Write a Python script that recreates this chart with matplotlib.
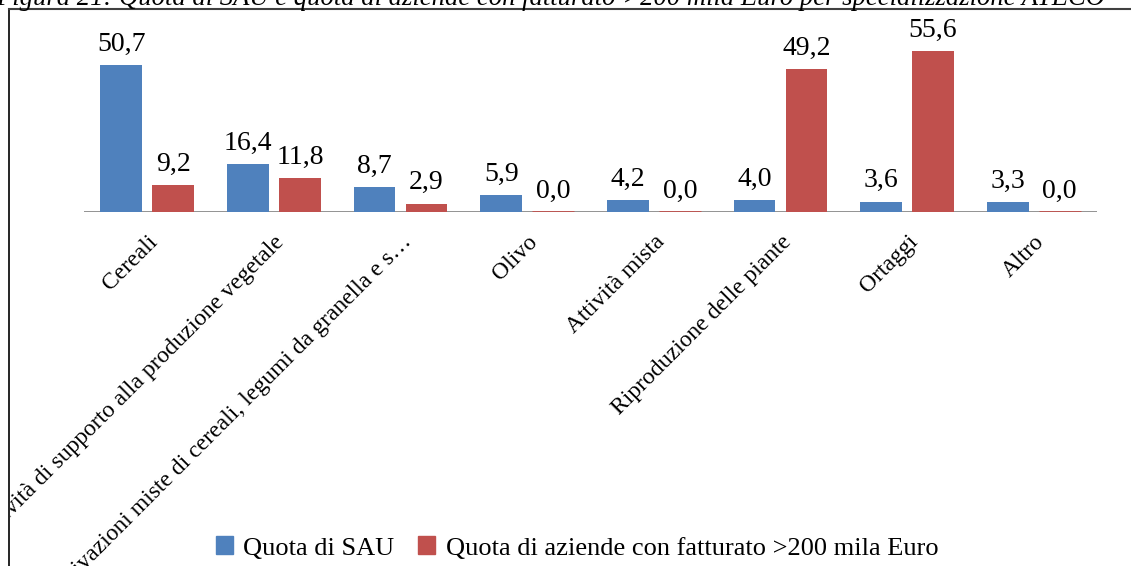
import matplotlib.pyplot as plt
from matplotlib.patches import Rectangle
from matplotlib.lines import Line2D
import numpy as np

# dati
categorie = ['Cereali',
             'Attività di supporto alla produzione vegetale',
             'Coltivazioni miste di cereali, legumi da granella e s…',
             'Olivo', 'Attività mista', 'Riproduzione delle piante',
             'Ortaggi', 'Altro']
quota_sau = [50.7, 16.4, 8.7, 5.9, 4.2, 4.0, 3.6, 3.3]
quota_aziende = [9.2, 11.8, 2.9, 0.0, 0.0, 49.2, 55.6, 0.0]
serie = ['Quota di SAU', 'Quota di aziende con fatturato >200 mila Euro']
titolo = ('Figura 21: Quota di SAU e quota di aziende con fatturato >200 mila '
          'Euro per specializzazione ATECO')

blu = '#4F81BD'
rosso = '#C0504D'

plt.rcParams['font.family'] = ['Liberation Serif', 'DejaVu Serif']

W, H = 1131, 566
fig = plt.figure(figsize=(W / 100, H / 100), dpi=100)
ax = fig.add_axes([84 / W, 1 - 212 / H, 1013 / W, 174 / H])

x = np.arange(len(categorie))
w = 0.33
off = 0.205
for vals, col, d in [(quota_sau, blu, -off), (quota_aziende, rosso, off)]:
    bars = ax.bar(x + d, vals, w, color=col, zorder=3)
    for r, v in zip(bars, vals):
        xc = r.get_x() + r.get_width() / 2
        if v == 0:
            # barra nulla: solo una linea sull'asse
            ax.hlines(0, r.get_x(), r.get_x() + w, color=col, lw=2, zorder=3)
        ax.annotate(f'{v:.1f}'.replace('.', ','), (xc, v),
                    xytext=(0, 6), textcoords='offset points',
                    ha='center', va='bottom', fontsize=20, zorder=4)

ax.set_xlim(-0.5, len(categorie) - 0.5)
ax.set_ylim(0, 60)
ax.axhline(0, color='#898989', lw=2, zorder=2)
for s in ax.spines.values():
    s.set_visible(False)
ax.set_yticks([])
ax.set_xticks(x)
ax.set_xticklabels(categorie, rotation=45, ha='right', va='top',
                   rotation_mode='anchor', fontsize=17)
ax.tick_params(axis='x', length=0, pad=14)

# legenda
handles = [Rectangle((0, 0), 1, 1, color=blu), Rectangle((0, 0), 1, 1, color=rosso)]
fig.legend(handles, serie, loc='center', bbox_to_anchor=(577 / W, 1 - 548 / H),
           ncol=2, frameon=False, fontsize=19, handlelength=0.65, handleheight=0.65,
           handletextpad=0.4, columnspacing=0.9, borderaxespad=0)

# cornice e titolo tagliato
fig.patches.append(Rectangle((0, 0), 9 / W, 1, transform=fig.transFigure,
                             color='white', zorder=10))
fig.lines.append(Line2D([9 / W, 9 / W], [0, 1 - 9 / H], transform=fig.transFigure,
                        color='black', lw=1.2, zorder=11))
fig.lines.append(Line2D([9 / W, 1], [1 - 9 / H, 1 - 9 / H], transform=fig.transFigure,
                        color='#404040', lw=1.5, zorder=11))
fig.text(-4 / W, 1 - 5 / H, titolo, style='italic', fontsize=19.2,
         ha='left', va='baseline', zorder=12)

fig.savefig('out.png', dpi=100)
